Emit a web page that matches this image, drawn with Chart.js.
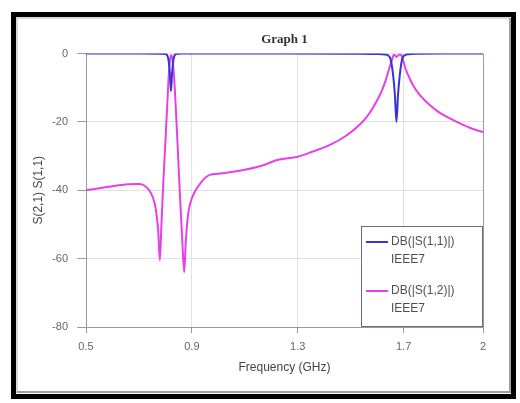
<!DOCTYPE html>
<html>
<head>
<meta charset="utf-8">
<script src="https://cdn.jsdelivr.net/npm/chart.js@4.4.1/dist/chart.umd.min.js"></script>
<style>
  html, body { margin: 0; padding: 0; background: #ffffff; }
  #wrap { position: relative; width: 520px; height: 403px; }
</style>
</head>
<body>
<div id="wrap"><canvas id="c" width="520" height="403"></canvas></div>
<script>
// ---- data ----
const chartTitle = "Graph 1";
const xAxisTitle = "Frequency (GHz)";
const yAxisTitle = "S(2,1) S(1,1)";
const xTickValues = [0.5, 0.9, 1.3, 1.7, 2];
const yTickValues = [0, -20, -40, -60, -80];

const s11Label = "DB(|S(1,1)|)";
const s12Label = "DB(|S(1,2)|)";
const seriesSource = "IEEE7";

const s11Freq = [0.5, 0.7, 0.78, 0.8, 0.805, 0.812, 0.817, 0.821, 0.825, 0.83, 0.837, 0.845, 0.86, 1.2, 1.5, 1.6, 1.63, 1.64, 1.65, 1.66, 1.667, 1.673, 1.679, 1.686, 1.695, 1.705, 1.72, 1.75, 1.85, 2.0];
const s11dB  = [0, 0, -0.05, -0.15, -0.3, -2, -6, -11, -6, -2, -0.3, -0.1, 0, 0, -0.05, -0.15, -0.3, -0.5, -1.5, -6, -12, -20, -12, -6, -1.5, -0.5, -0.2, -0.1, 0, 0];

const s12Freq = [0.5, 0.55, 0.6, 0.65, 0.7, 0.72, 0.742, 0.76, 0.768, 0.773, 0.779, 0.785, 0.792, 0.8, 0.807, 0.813, 0.818, 0.822, 0.826, 0.832, 0.84, 0.848, 0.856, 0.864, 0.871, 0.877, 0.886, 0.895, 0.905, 0.937, 0.968, 1.0, 1.08, 1.157, 1.226, 1.3, 1.36, 1.42, 1.48, 1.54, 1.57, 1.597, 1.62, 1.635, 1.645, 1.654, 1.664, 1.673, 1.684, 1.692, 1.7, 1.709, 1.72, 1.735, 1.76, 1.798, 1.83, 1.862, 1.925, 1.96, 2.0];
const s12dB  = [-40, -39.4, -38.8, -38.3, -38.2, -38.6, -40.4, -44, -48, -52, -60.5, -50, -38, -26, -15, -6, -1.5, -0.5, -1.5, -6, -17, -30, -43, -55, -64, -55, -47, -43.5, -41.4, -37.5, -35.5, -35.2, -34.3, -33, -31.1, -30.2, -28.6, -26.8, -24.2, -20.4, -17.6, -14.1, -10.5, -7.2, -4.6, -2.4, -0.3, -1.0, -0.3, -0.5, -2.5, -4.8, -6.8, -9.2, -12, -15, -17, -18.5, -20.9, -22, -23];

const s11Color = "#3535d2";
const s12Color = "#e840e8";

// ---- plugins ----
const framePlugin = {
  id: "frame",
  beforeDraw(chart) {
    const ctx = chart.ctx;
    ctx.save();
    ctx.fillStyle = "#ffffff";
    ctx.fillRect(0, 0, chart.width, chart.height);
    // outer black frame
    ctx.strokeStyle = "#000000";
    ctx.lineWidth = 5;
    ctx.strokeRect(13.5, 14.5, 500, 382);
    // inner bevel
    ctx.lineWidth = 2;
    ctx.strokeStyle = "#d8d8d8";
    ctx.beginPath();
    ctx.moveTo(17, 393); ctx.lineTo(17, 18); ctx.lineTo(510, 18);
    ctx.stroke();
    ctx.strokeStyle = "#a0a0a0";
    ctx.beginPath();
    ctx.moveTo(510, 18); ctx.lineTo(510, 392); ctx.lineTo(17, 392);
    ctx.stroke();
    ctx.restore();
  }
};

const boxLegendPlugin = {
  id: "boxLegend",
  afterDatasetsDraw(chart) {
    const ctx = chart.ctx;
    const a = chart.chartArea;
    const w = 122, h = 101;
    const left = a.right - w, top = a.bottom - h;
    ctx.save();
    ctx.fillStyle = "#ffffff";
    ctx.fillRect(left, top, w, h);
    ctx.strokeStyle = "#6a6a80";
    ctx.lineWidth = 1;
    ctx.strokeRect(left + 0.5, top + 0.5, w - 1, h - 1);
    ctx.font = "12px 'Liberation Sans', Arial, sans-serif";
    ctx.fillStyle = "#505050";
    ctx.textBaseline = "middle";
    ctx.textAlign = "left";
    const rows = [16, 65];
    chart.data.datasets.forEach((ds, i) => {
      const y = top + rows[i];
      ctx.strokeStyle = ds.borderColor;
      ctx.lineWidth = 2;
      ctx.beginPath();
      ctx.moveTo(left + 5, y);
      ctx.lineTo(left + 27, y);
      ctx.stroke();
      ctx.fillText(ds.label, left + 30, y);
      ctx.fillText(seriesSource, left + 30, y + 18);
    });
    ctx.restore();
  }
};

const toPoints = (xs, ys) => xs.map((x, i) => ({ x: x, y: ys[i] }));

const edgeColor = "#9a9a9a";
const gridColor = "#e2e2e2";

new Chart(document.getElementById("c"), {
  type: "line",
  data: {
    datasets: [
      {
        label: s11Label,
        data: toPoints(s11Freq, s11dB),
        borderColor: s11Color,
        borderWidth: 2,
        pointRadius: 0,
        cubicInterpolationMode: "monotone",
        fill: false
      },
      {
        label: s12Label,
        data: toPoints(s12Freq, s12dB),
        borderColor: s12Color,
        borderWidth: 2,
        pointRadius: 0,
        cubicInterpolationMode: "monotone",
        fill: false
      }
    ]
  },
  options: {
    responsive: false,
    animation: false,
    devicePixelRatio: 1,
    layout: { padding: { left: 20, right: 37, top: 32, bottom: 20 } },
    plugins: {
      legend: { display: false },
      tooltip: { enabled: false },
      title: {
        display: true,
        text: chartTitle,
        fullSize: false,
        color: "#333333",
        font: { family: "'Liberation Serif', 'Times New Roman', serif", size: 13, weight: "bold", lineHeight: 1.2 },
        padding: { top: 0, bottom: 5.9 }
      }
    },
    scales: {
      x: {
        type: "linear",
        min: 0.5,
        max: 2,
        afterBuildTicks(scale) { scale.ticks = xTickValues.map(v => ({ value: v })); },
        afterFit(scale) { scale.height = 56; },
        ticks: {
          autoSkip: false,
          maxRotation: 0,
          padding: 7,
          color: "#666666",
          font: { family: "'Liberation Sans', Arial, sans-serif", size: 11 },
          callback: (v) => String(v)
        },
        grid: {
          color: (c) => (c.tick && (c.tick.value === 0.5 || c.tick.value === 2)) ? edgeColor : gridColor,
          tickColor: edgeColor,
          tickLength: 6,
          lineWidth: 1
        },
        border: { display: true, color: edgeColor },
        title: {
          display: true,
          text: xAxisTitle,
          color: "#444444",
          font: { family: "'Liberation Sans', Arial, sans-serif", size: 12, lineHeight: 1.2 },
          padding: { top: 0, bottom: 8.4 }
        }
      },
      y: {
        type: "linear",
        min: -80,
        max: 0,
        afterBuildTicks(scale) { scale.ticks = yTickValues.map(v => ({ value: v })); },
        afterFit(scale) { scale.width = 66; },
        ticks: {
          padding: 9,
          color: "#666666",
          font: { family: "'Liberation Sans', Arial, sans-serif", size: 11 },
          callback: (v) => String(v)
        },
        grid: {
          color: (c) => (c.tick && c.tick.value === -80) ? edgeColor : gridColor,
          tickColor: edgeColor,
          tickLength: 9,
          lineWidth: 1
        },
        border: { display: true, color: edgeColor },
        title: {
          display: true,
          text: yAxisTitle,
          color: "#444444",
          font: { family: "'Liberation Sans', Arial, sans-serif", size: 12, lineHeight: 1.2 },
          padding: { top: 11, bottom: 0 }
        }
      }
    }
  },
  plugins: [framePlugin, boxLegendPlugin]
});
</script>
</body>
</html>
